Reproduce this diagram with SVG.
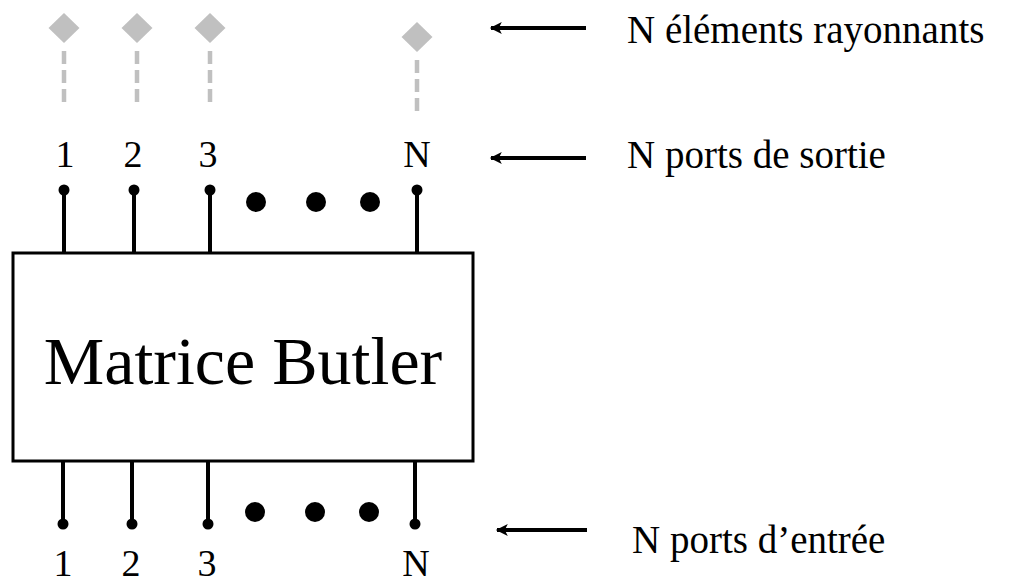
<svg xmlns="http://www.w3.org/2000/svg" width="1015" height="582" viewBox="0 0 1015 582">
  <style>
    .txt { font-family: "Liberation Serif", "Times New Roman", serif; fill: #000; }
    .num { font-size: 38px; text-anchor: middle; }
    .lbl { font-size: 39px; }
    .pin { stroke: #000; stroke-width: 4; fill: none; }
    .feed { stroke: #c0c0c0; stroke-width: 4.5; stroke-dasharray: 13 6; fill: none; }
    .ant { fill: #c0c0c0; }
    .arrow { stroke: #000; stroke-width: 4; fill: none; marker-start: url(#head); }
  </style>
  <defs>
    <marker id="head" viewBox="0 0 10 10" refX="1" refY="5" markerWidth="3.4" markerHeight="3" orient="auto" markerUnits="strokeWidth">
      <path d="M0,5 L10,0 L7.5,5 L10,10 Z" fill="#000"/>
    </marker>
  </defs>
  <rect width="1015" height="582" fill="#fff"/>

  <!-- radiating elements -->
  <g id="antennas">
    <path class="feed" d="M64,51 V106 M137,51 V106 M210,51 V106 M417,60 V115"/>
    <path class="ant" d="M64,13 L79.5,28 L64,43 L48.5,28 Z"/>
    <path class="ant" d="M137,13 L152.5,28 L137,43 L121.5,28 Z"/>
    <path class="ant" d="M210,13 L225.5,28 L210,43 L194.5,28 Z"/>
    <path class="ant" d="M417,22 L432.5,37 L417,52 L401.5,37 Z"/>
  </g>

  <!-- output ports -->
  <g id="output-ports">
    <text class="txt num" x="65" y="167">1</text>
    <text class="txt num" x="133" y="167">2</text>
    <text class="txt num" x="208" y="167">3</text>
    <text class="txt num" x="417" y="167">N</text>
    <path class="pin" d="M64,190 V253 M134,190 V253 M210,190 V253 M417,190 V253"/>
    <circle cx="64" cy="190" r="5.5"/>
    <circle cx="134" cy="190" r="5.5"/>
    <circle cx="210" cy="190" r="5.5"/>
    <circle cx="417" cy="190" r="5.5"/>
    <circle cx="256" cy="202" r="10"/>
    <circle cx="316" cy="202" r="10"/>
    <circle cx="370" cy="202" r="10"/>
  </g>

  <!-- matrix block -->
  <g id="matrix">
    <rect x="13" y="253" width="460" height="208" fill="#fff" stroke="#000" stroke-width="3"/>
    <text class="txt" x="243" y="384" font-size="68" text-anchor="middle">Matrice Butler</text>
  </g>

  <!-- input ports -->
  <g id="input-ports">
    <path class="pin" d="M63,461 V524 M132,461 V524 M208,461 V524 M415,461 V524"/>
    <circle cx="63" cy="524" r="5.5"/>
    <circle cx="132" cy="524" r="5.5"/>
    <circle cx="208" cy="524" r="5.5"/>
    <circle cx="415" cy="524" r="5.5"/>
    <circle cx="255" cy="512" r="10"/>
    <circle cx="315" cy="512" r="10"/>
    <circle cx="369" cy="512" r="10"/>
    <text class="txt num" x="63" y="576">1</text>
    <text class="txt num" x="131" y="576">2</text>
    <text class="txt num" x="207" y="576">3</text>
    <text class="txt num" x="416" y="576">N</text>
  </g>

  <!-- pointers to the legend -->
  <g id="connectors">
    <path class="arrow" d="M491,28 H586"/>
    <path class="arrow" d="M491,158 H586"/>
    <path class="arrow" d="M497,530 H587"/>
  </g>

  <!-- legend -->
  <g id="legend">
    <text class="txt lbl" x="627" y="43">N éléments rayonnants</text>
    <text class="txt lbl" x="627" y="168">N ports de sortie</text>
    <text class="txt lbl" x="632" y="553">N ports d’entrée</text>
  </g>
</svg>
